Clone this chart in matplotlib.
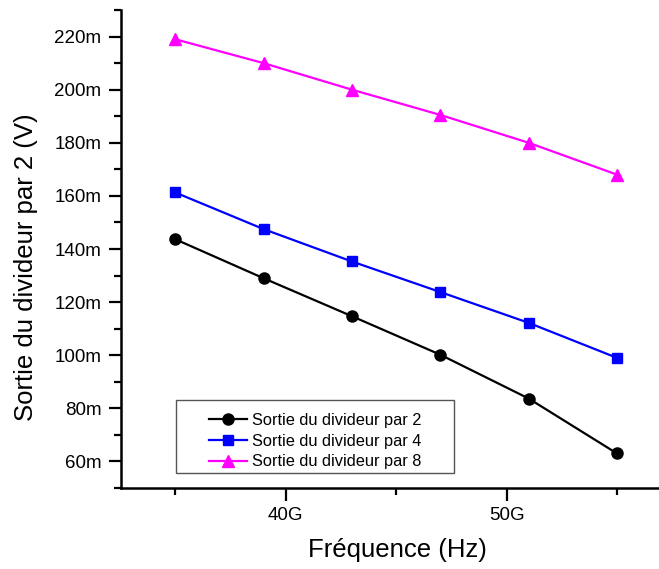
import matplotlib
matplotlib.use("Agg")
import matplotlib.pyplot as plt
from matplotlib.patches import Rectangle
from matplotlib.ticker import MultipleLocator, FuncFormatter

plt.rcParams['font.family'] = ['Liberation Sans', 'DejaVu Sans']

freq_ghz = [35, 39, 43, 47, 51, 55]
div2 = [143.7, 129.0, 114.7, 100.2, 83.7, 63.0]
div4 = [161.3, 147.5, 135.3, 123.8, 112.2, 99.0]
div8 = [219.0, 210.0, 200.0, 190.5, 180.0, 168.0]
labels = ["Sortie du divideur par 2", "Sortie du divideur par 4", "Sortie du divideur par 8"]

W, H = 659, 569
L, R, B, T = 121, 659, 488, 10
fig = plt.figure(figsize=(W/100, H/100), dpi=100)
ax = fig.add_axes([L/W, 1 - B/H, (R - L)/W, (B - T)/H])

def ax_x(px):
    return (px - L) / (R - L)

def ax_y(py):
    return (B - py) / (B - T)

ax.plot(freq_ghz, div2, color='black', marker='o', markersize=8, lw=1.6, label=labels[0])
ax.plot(freq_ghz, div4, color='#0000ff', marker='s', markersize=7, lw=1.6, label=labels[1])
ax.plot(freq_ghz, div8, color='#ff00ff', marker='^', markersize=8.5, lw=1.6, label=labels[2])

ax.set_xlim(32.55, 56.9)
ax.set_ylim(50, 230)
ax.xaxis.set_major_locator(MultipleLocator(10))
ax.xaxis.set_minor_locator(MultipleLocator(5))
ax.yaxis.set_major_locator(MultipleLocator(20))
ax.yaxis.set_minor_locator(MultipleLocator(10))
ax.xaxis.set_major_formatter(FuncFormatter(lambda v, p: f"{v:.0f}G"))
ax.yaxis.set_major_formatter(FuncFormatter(lambda v, p: f"{v:.0f}m"))

for s in ['top', 'right']:
    ax.spines[s].set_visible(False)
for s in ['left', 'bottom']:
    ax.spines[s].set_linewidth(1.8)
ax.tick_params(which='major', direction='out', length=9, width=1.6, labelsize=13.5, pad=5)
ax.tick_params(which='minor', direction='out', length=5, width=1.6)

ax.set_xlabel("Fréquence (Hz)", fontsize=18.5)
ax.set_ylabel("Sortie du divideur par 2 (V)", fontsize=18.5)
ax.xaxis.set_label_coords(ax_x(397), ax_y(550), transform=ax.transAxes)
ax.xaxis.label.set_va('center')
ax.yaxis.set_label_coords(ax_x(26), ax_y(267), transform=ax.transAxes)
ax.yaxis.label.set_va('center')

leg = ax.legend(loc='upper left', bbox_to_anchor=(ax_x(209), ax_y(413)),
                borderaxespad=0, borderpad=0, fontsize=11.8, frameon=False,
                handlelength=2.3, handletextpad=0.3, labelspacing=0.35)
ax.add_patch(Rectangle((ax_x(176), ax_y(473)), ax_x(454) - ax_x(176), ax_y(400) - ax_y(473),
                       transform=ax.transAxes, fill=False, edgecolor='#555555', lw=1.0,
                       zorder=5, clip_on=False))

fig.savefig("out.png", dpi=100)
